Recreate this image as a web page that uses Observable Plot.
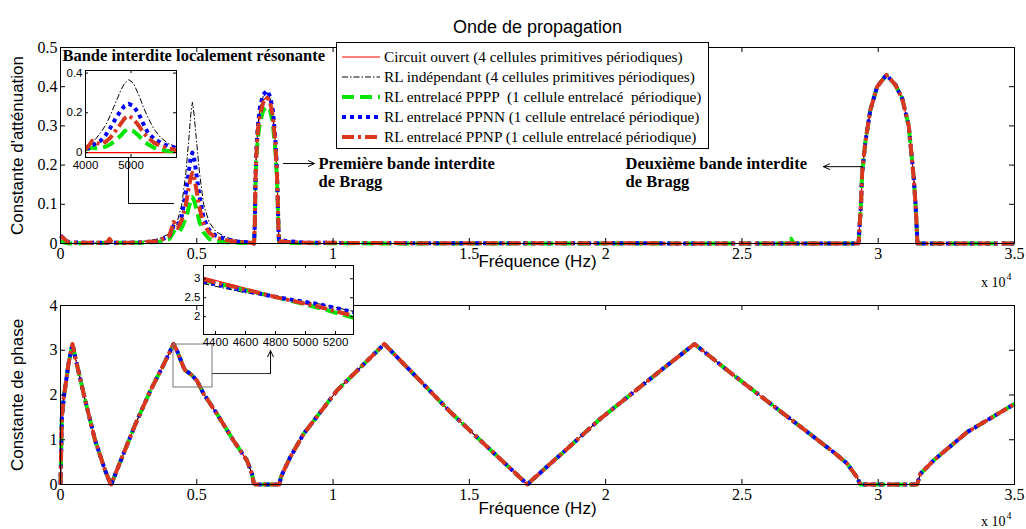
<!DOCTYPE html>
<html><head><meta charset="utf-8">
<script src="https://cdn.jsdelivr.net/npm/d3@7"></script>
<script src="https://cdn.jsdelivr.net/npm/@observablehq/plot@0.6"></script>
<style>
body{margin:0;background:#fff;}
#wrap{position:relative;width:1026px;height:529px;overflow:hidden;background:#fff;}
#wrap svg{position:absolute;}
</style></head><body><div id="wrap"></div>
<script>
// ---------- Series ----------
const names = [
  "Circuit ouvert (4 cellules primitives périodiques)",
  "RL indépendant (4 cellules primitives périodiques)",
  "RL entrelacé PPPP  (1 cellule entrelacé  périodique)",
  "RL entrelacé PPNN (1 cellule entrelacé périodique)",
  "RL entrelacé PPNP (1 cellule entrelacé périodique)"
];
const colors = ["#ff0000", "#000000", "#00e600", "#0000ff", "#d9381e"];
const widths = [1.2, 1, 4, 4, 4];
const dashes = [null, "6,2,1.5,2", "12,6", "4,4", "12,4,3,4"];

// ---------- Attenuation (top) ----------
const freqAtt = [0, 300, 1000, 1700, 1800, 1900, 2500, 3000, 3600, 4000,
  4150, 4300, 4450, 4600, 4700, 4780, 4840, 4900, 4980, 5100,
  5250, 5450, 5700, 6100, 6500, 7000,
  7100, 7130, 7150, 7180, 7240, 7320, 7440, 7580, 7690, 7790, 7880, 7940, 7975, 7995, 8015,
  8300, 9000, 12000, 26700, 26800, 26900,
  29280, 29320, 29370, 29410, 29530, 29710, 29960, 30300, 30630, 30880, 31120, 31300, 31370, 31420, 31440,
  35000];
const attOpen = [0,0,0,0,0,0,0,0,0,0, 0,0,0,0,0,0,0,0,0,0, 0,0,0,0,0,0,
  0, 0.05, 0.15, 0.22, 0.29, 0.34, 0.365, 0.375, 0.36, 0.325, 0.26, 0.18, 0.1, 0.04, 0,
  0,0,0,0,0,0,
  0, 0.05, 0.1, 0.18, 0.26, 0.34, 0.40, 0.43, 0.405, 0.37, 0.3, 0.17, 0.1, 0.03, 0,
  0];
const attIndep = [0.005, 0, 0.001, 0.002, 0.002, 0.002, 0.003, 0.005, 0.012, 0.025,
  0.04, 0.06, 0.1, 0.18, 0.26, 0.33, 0.36, 0.33, 0.27, 0.18,
  0.1, 0.055, 0.03, 0.015, 0.008, 0.004,
  0, 0.05, 0.15, 0.23, 0.3, 0.35, 0.375, 0.385, 0.37, 0.335, 0.265, 0.185, 0.1, 0.04, 0.005,
  0.003, 0.001, 0, 0, 0, 0,
  0, 0.05, 0.1, 0.18, 0.26, 0.34, 0.40, 0.43, 0.405, 0.37, 0.3, 0.17, 0.1, 0.03, 0,
  0];
const attPPPP = [0.005, 0, 0.001, 0.002, 0.002, 0.002, 0.002, 0.002, 0.004, 0.012,
  0.03, 0.025, 0.04, 0.065, 0.09, 0.11, 0.118, 0.11, 0.09, 0.055,
  0.028, 0.012, 0.006, 0.003, 0.002, 0.001,
  0, 0.045, 0.14, 0.21, 0.27, 0.31, 0.34, 0.35, 0.34, 0.305, 0.24, 0.17, 0.09, 0.04, 0.004,
  0.002, 0.001, 0, 0, 0.012, 0,
  0, 0.05, 0.1, 0.18, 0.26, 0.34, 0.40, 0.43, 0.405, 0.37, 0.3, 0.17, 0.1, 0.03, 0,
  0];
const attPPNN = [0.02, 0.003, 0.002, 0.002, 0.003, 0.002, 0.002, 0.003, 0.006, 0.02,
  0.045, 0.045, 0.07, 0.13, 0.18, 0.22, 0.232, 0.22, 0.18, 0.12,
  0.065, 0.035, 0.02, 0.01, 0.005, 0.003,
  0, 0.05, 0.15, 0.23, 0.3, 0.35, 0.38, 0.39, 0.375, 0.34, 0.27, 0.19, 0.1, 0.04, 0.01,
  0.006, 0.002, 0.001, 0, 0, 0,
  0, 0.05, 0.1, 0.18, 0.26, 0.34, 0.40, 0.43, 0.405, 0.37, 0.3, 0.17, 0.1, 0.03, 0,
  0];
const attPPNP = [0.02, 0.002, 0.002, 0.002, 0.012, 0.002, 0.002, 0.003, 0.006, 0.02,
  0.055, 0.04, 0.06, 0.1, 0.14, 0.17, 0.18, 0.17, 0.14, 0.09,
  0.05, 0.028, 0.015, 0.008, 0.004, 0.002,
  0, 0.05, 0.15, 0.22, 0.29, 0.33, 0.36, 0.372, 0.36, 0.325, 0.26, 0.18, 0.1, 0.04, 0.006,
  0.004, 0.002, 0.001, 0, 0, 0,
  0, 0.05, 0.1, 0.18, 0.26, 0.34, 0.40, 0.43, 0.405, 0.37, 0.3, 0.17, 0.1, 0.03, 0,
  0];

// ---------- Phase (bottom) ----------
const freqPh = [0, 20, 50, 120, 172, 294, 393, 440, 539, 906,
  1273, 1640, 1824, 1860, 2253, 2750, 3300, 3800, 4147, 4300,
  4514, 4576, 4700, 4822, 5005, 5248, 5739, 6349, 6840, 7024,
  7083, 7145, 8030, 8080, 8184, 8429, 8918, 10143, 11879, 13000,
  14301, 15500, 16500, 17130, 17300, 18500, 19805, 22253, 23260, 24697,
  26532, 28367, 28856, 29223, 29345, 31427, 31549, 32037, 33263, 35000];
const phaseCommon = [0, 0.6, 1.5, 1.95, 2.17, 2.7, 3.0, 3.14, 2.85, 1.88,
  0.98, 0.31, 0.03, 0, 0.6, 1.35, 2.1, 2.7, 3.14, 2.95,
  2.62, 2.55, 2.5, 2.44, 2.32, 2.03, 1.58, 0.98, 0.54, 0.24,
  0.05, 0, 0, 0.15, 0.3, 0.61, 1.13, 2.1, 3.14, 2.44,
  1.62, 0.93, 0.36, 0, 0.1, 0.75, 1.47, 2.66, 3.14, 2.44,
  1.58, 0.72, 0.47, 0.16, 0, 0, 0.24, 0.54, 1.17, 1.8];

// ---------- Inset (top): local resonance ----------
const freqInA = [4000, 4073, 4147, 4230, 4330, 4450, 4550, 4660, 4770, 4860, 4952, 5050, 5172, 5270, 5370, 5500, 5648, 5820, 6000];
const inAOpen  = [0,0,0,0,0,0,0,0,0,0,0,0,0,0,0,0,0,0,0];
const inAIndep = [0.032, 0.04, 0.05, 0.07, 0.10, 0.14, 0.19, 0.25, 0.31, 0.35, 0.367, 0.35, 0.29, 0.23, 0.177, 0.12, 0.076, 0.045, 0.029];
const inAPPPP  = [0.015, 0.02, 0.025, 0.022, 0.022, 0.03, 0.042, 0.062, 0.084, 0.108, 0.118, 0.108, 0.084, 0.06, 0.042, 0.025, 0.012, 0.008, 0.006];
const inAPPNN  = [0.02, 0.022, 0.035, 0.045, 0.059, 0.09, 0.126, 0.17, 0.21, 0.235, 0.245, 0.235, 0.194, 0.145, 0.10, 0.07, 0.05, 0.032, 0.022];
const inAPPNP  = [0.015, 0.035, 0.059, 0.05, 0.042, 0.055, 0.076, 0.11, 0.143, 0.172, 0.185, 0.17, 0.135, 0.1, 0.076, 0.05, 0.034, 0.02, 0.012];

// ---------- Inset (bottom): phase zoom ----------
const freqInP = [4320, 4600, 4830, 5100, 5320];
const inPOpen  = [3.04, 2.75, 2.50, 2.24, 1.98];
const inPIndep = [2.87, 2.63, 2.50, 2.33, 2.14];
const inPPPPP  = [2.96, 2.70, 2.49, 2.22, 1.97];
const inPPPNN  = [2.93, 2.68, 2.50, 2.32, 2.12];
const inPPPNP  = [2.98, 2.72, 2.49, 2.25, 2.02];

// ---------- Ticks ----------
const xTicks = [0, 5000, 10000, 15000, 20000, 25000, 30000, 35000];
const attTicks = [0, 0.1, 0.2, 0.3, 0.4, 0.5];
const phTicks = [0, 1, 2, 3, 4];
const inAXTicks = [4000, 5000];
const inAYTicks = [0, 0.2, 0.4];
const inPXTicks = [4400, 4600, 4800, 5000, 5200];
const inPYTicks = [2, 2.5, 3];

// ---------- Annotations (data units) ----------
const annTopText = [
  {f: 70, v: 0.48, t: "Bande interdite localement résonante"},
  {f: 9466, v: 0.204, t: "Première bande interdite"},
  {f: 9466, v: 0.158, t: "de Bragg"},
  {f: 20729, v: 0.204, t: "Deuxième bande interdite"},
  {f: 20729, v: 0.158, t: "de Bragg"}
];
const annTopPath = [{f: 4146, v: 0.102}, {f: 2495, v: 0.102}];
const annTopArrows = [
  {f1: 2495, v1: 0.102, f2: 2495, v2: 0.255},
  {f1: 8181, v1: 0.204, f2: 9319, v2: 0.204},
  {f1: 29424, v1: 0.196, f2: 27993, v2: 0.196}
];
const annBotRect = [{f1: 4146, f2: 5577, v1: 2.168, v2: 3.128}];
const annBotPath = [{f: 5577, v: 2.48}, {f: 7705, v: 2.48}];
const annBotArrows = [{f1: 7705, v1: 2.48, f2: 7705, v2: 2.99}];

// ---------- helpers ----------
const SANS = "'Liberation Sans', Arial, sans-serif";
const SERIF = "'Liberation Serif', 'Times New Roman', serif";

function seriesMarks(freq, list, clip) {
  return list.map((vals, i) => Plot.line(freq.map((f, j) => ({f, v: vals[j]})), {
    x: "f", y: "v", stroke: colors[i], strokeWidth: widths[i],
    strokeDasharray: dashes[i] || undefined, strokeLinecap: "butt", strokeLinejoin: "round", clip
  }));
}
function boxTicks(xt, yt, iw, ih, len) {
  return [
    Plot.tickX(xt, {x: d => d, insetTop: ih - len, stroke: "#000"}),
    Plot.tickX(xt, {x: d => d, insetBottom: ih - len, stroke: "#000"}),
    Plot.tickY(yt, {y: d => d, insetRight: iw - len, stroke: "#000"}),
    Plot.tickY(yt, {y: d => d, insetLeft: iw - len, stroke: "#000"})
  ];
}
function place(el, left, top) {
  el.style.position = "absolute"; el.style.left = left + "px"; el.style.top = top + "px";
  document.getElementById("wrap").appendChild(el);
}
const baseStyle = `font-family: ${SERIF}; font-size: 16px; background: transparent; overflow: visible; color: #000;`;
const axisFont = {fontFamily: SERIF, fontSize: 16};

// ---------- Top plot ----------
const topPlot = Plot.plot({
  width: 1026, height: 290, marginLeft: 60, marginRight: 12, marginTop: 47, marginBottom: 47,
  x: {domain: [0, 35000]}, y: {domain: [0, 0.5]},
  style: baseStyle,
  marks: [
    ...seriesMarks(freqAtt, [attOpen, attIndep, attPPPP, attPPNN, attPPNP], false),
    Plot.frame({stroke: "#000"}),
    ...boxTicks(xTicks, attTicks, 954, 196, 5),
    Plot.axisX(xTicks, {tickSize: 0, tickPadding: 4, tickFormat: d => String(d / 1e4), label: null, ...axisFont}),
    Plot.axisY(attTicks, {tickSize: 0, tickPadding: 3, tickFormat: d => String(d), label: null, ...axisFont}),
    Plot.line(annTopPath, {x: "f", y: "v", stroke: "#000", strokeWidth: 1}),
    Plot.arrow(annTopArrows, {x1: "f1", y1: "v1", x2: "f2", y2: "v2", stroke: "#000", strokeWidth: 1, headLength: 10, headAngle: 50}),
    Plot.text(annTopText, {x: "f", y: "v", text: "t", textAnchor: "start", fontFamily: SERIF, fontWeight: "bold", fontSize: 16.5}),
    Plot.text(["Onde de propagation"], {text: d => d, frameAnchor: "top", dy: -27, fontFamily: SANS, fontSize: 18}),
    Plot.text(["Fréquence (Hz)"], {text: d => d, frameAnchor: "bottom", dy: 23, fontFamily: SANS, fontSize: 17}),
    Plot.text(["Constante d'atténuation"], {text: d => d, frameAnchor: "left", textAnchor: "middle", dx: -43, rotate: -90, fontFamily: SANS, fontSize: 17}),
    Plot.text(["x 10"], {text: d => d, frameAnchor: "bottom-right", textAnchor: "end", dx: -9, dy: 43, fontFamily: SERIF, fontSize: 14}),
    Plot.text(["4"], {text: d => d, frameAnchor: "bottom-right", textAnchor: "start", dx: -8, dy: 36, fontFamily: SERIF, fontSize: 10})
  ]
});
place(topPlot, 0, 0);

// ---------- Bottom plot ----------
const botPlot = Plot.plot({
  width: 1026, height: 269, marginLeft: 60, marginRight: 12, marginTop: 45, marginBottom: 45,
  x: {domain: [0, 35000]}, y: {domain: [0, 4]},
  style: baseStyle,
  marks: [
    ...seriesMarks(freqPh, [phaseCommon, phaseCommon, phaseCommon, phaseCommon, phaseCommon], false),
    Plot.frame({stroke: "#000"}),
    ...boxTicks(xTicks, phTicks, 954, 179, 5),
    Plot.axisX(xTicks, {tickSize: 0, tickPadding: 4, tickFormat: d => String(d / 1e4), label: null, ...axisFont}),
    Plot.axisY(phTicks, {tickSize: 0, tickPadding: 3, tickFormat: d => String(d), label: null, ...axisFont}),
    Plot.rect(annBotRect, {x1: "f1", x2: "f2", y1: "v1", y2: "v2", fill: "none", stroke: "#777", strokeWidth: 1}),
    Plot.line(annBotPath, {x: "f", y: "v", stroke: "#333", strokeWidth: 1}),
    Plot.arrow(annBotArrows, {x1: "f1", y1: "v1", x2: "f2", y2: "v2", stroke: "#000", strokeWidth: 1, headLength: 10, headAngle: 50}),
    Plot.text(["Fréquence (Hz)"], {text: d => d, frameAnchor: "bottom", dy: 29, fontFamily: SANS, fontSize: 17}),
    Plot.text(["Constante de phase"], {text: d => d, frameAnchor: "left", textAnchor: "middle", dx: -43, rotate: -90, fontFamily: SANS, fontSize: 17}),
    Plot.text(["x 10"], {text: d => d, frameAnchor: "bottom-right", textAnchor: "end", dx: -9, dy: 41, fontFamily: SERIF, fontSize: 14}),
    Plot.text(["4"], {text: d => d, frameAnchor: "bottom-right", textAnchor: "start", dx: -8, dy: 34, fontFamily: SERIF, fontSize: 10})
  ]
});
place(botPlot, 0, 260);

// ---------- Top inset ----------
const insetStyle = `font-family: ${SANS}; font-size: 11.5px; background: transparent; overflow: visible; color: #000;`;
const inFont = {fontFamily: SANS, fontSize: 11.5};
const inA = Plot.plot({
  width: 127, height: 111, marginLeft: 30, marginRight: 6, marginTop: 6, marginBottom: 18,
  x: {domain: [4000, 6000]}, y: {domain: [-0.025, 0.413]},
  style: insetStyle,
  marks: [
    Plot.frame({fill: "white", stroke: null}),
    ...seriesMarks(freqInA, [inAOpen, inAIndep, inAPPPP, inAPPNN, inAPPNP], true),
    Plot.frame({stroke: "#000"}),
    ...boxTicks(inAXTicks, inAYTicks, 91, 87, 3),
    Plot.axisX(inAXTicks, {tickSize: 0, tickPadding: 3, tickFormat: d => String(d), label: null, ...inFont}),
    Plot.axisY(inAYTicks, {tickSize: 0, tickPadding: 3, tickFormat: d => String(d), label: null, ...inFont})
  ]
});
place(inA, 55, 64);

// ---------- Bottom inset ----------
const inP = Plot.plot({
  width: 182, height: 91, marginLeft: 26, marginRight: 6, marginTop: 4, marginBottom: 18,
  x: {domain: [4320, 5320]}, y: {domain: [1.53, 3.35]},
  style: insetStyle,
  marks: [
    Plot.frame({fill: "white", stroke: null}),
    ...seriesMarks(freqInP, [inPOpen, inPIndep, inPPPPP, inPPPNN, inPPPNP], true),
    Plot.frame({stroke: "#000"}),
    ...boxTicks(inPXTicks, inPYTicks, 150, 69, 3),
    Plot.axisX(inPXTicks, {tickSize: 0, tickPadding: 3, tickFormat: d => String(d), label: null, ...inFont}),
    Plot.axisY(inPYTicks, {tickSize: 0, tickPadding: 3, tickFormat: d => String(d), label: null, ...inFont})
  ]
});
place(inP, 177, 261);

// ---------- Legend ----------
const leg = d3.create("svg").attr("width", 374).attr("height", 108);
leg.append("rect").attr("x", 0.5).attr("y", 0.5).attr("width", 372).attr("height", 106)
  .attr("fill", "white").attr("stroke", "black");
names.forEach((n, i) => {
  const y = 15 + i * 20;
  leg.append("line").attr("x1", 6).attr("x2", 44).attr("y1", y).attr("y2", y)
    .attr("stroke", colors[i]).attr("stroke-width", widths[i])
    .attr("stroke-dasharray", dashes[i]).attr("stroke-linecap", "butt");
  leg.append("text").attr("x", 48).attr("y", y).attr("dy", "0.35em")
    .style("font-family", SERIF).style("font-size", "15.3px").style("white-space", "pre")
    .text(n);
});
place(leg.node(), 336, 42);
</script>
</body></html>
